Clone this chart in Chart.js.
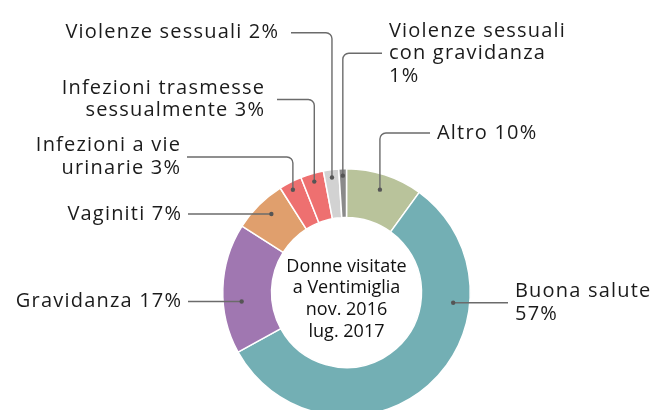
<!DOCTYPE html>
<html>
<head>
<meta charset="utf-8">
<script src="https://cdn.jsdelivr.net/npm/chart.js@4"></script>
<style>
  html, body { margin: 0; padding: 0; background: #fff; overflow: hidden; }
  #wrap { width: 655px; height: 410px; overflow: hidden; }
</style>
</head>
<body>
<div id="wrap">
  <canvas id="donutChart" width="655" height="440"></canvas>
</div>
<script>
// data
const categories = ['Altro', 'Buona salute', 'Gravidanza', 'Vaginiti', 'Infezioni a vie urinarie',
                    'Infezioni trasmesse sessualmente', 'Violenze sessuali', 'Violenze sessuali con gravidanza'];
const values = [10, 57, 17, 7, 3, 3, 2, 1];
const colors = ['#b9c39b', '#73afb4', '#a077b1', '#e09f6d', '#ee7070', '#ee7070', '#d2d2d2', '#8a8a8a'];
const centerText = ['Donne visitate', 'a Ventimiglia', 'nov. 2016', 'lug. 2017'];

// callout layout: pos = where along the slice, ring = how far across the ring
const callouts = [
    { lines: ['Altro ' + values[0] + '%'], pos: 0.5, ring: 0.68, elbowY: 133, endX: 430, textX: 437, align: 'left' },
    { lines: ['Buona salute', values[1] + '%'], pos: 0.29, ring: 0.66, endX: 508, textX: 515, align: 'left' },
    { lines: ['Gravidanza ' + values[2] + '%'], pos: 0.39, ring: 0.62, endX: 188, textX: 181, align: 'right' },
    { lines: ['Vaginiti ' + values[3] + '%'], pos: 0.55, ring: 0.69, endX: 188, textX: 181, align: 'right' },
    { lines: ['Infezioni a vie', 'urinarie ' + values[4] + '%'], pos: 0.45, ring: 0.84, elbowY: 157, endX: 187, textX: 180, align: 'right' },
    { lines: ['Infezioni trasmesse', 'sessualmente ' + values[5] + '%'], pos: 0.5, ring: 0.83, elbowY: 99.5, endX: 277, textX: 264, align: 'right' },
    { lines: ['Violenze sessuali ' + values[6] + '%'], pos: 0.5, ring: 0.84, elbowY: 32.7, endX: 291, textX: 278, align: 'right' },
    { lines: ['Violenze sessuali', 'con gravidanza', values[7] + '%'], pos: 0.5, ring: 0.86, elbowY: 53.3, endX: 382, textX: 389, align: 'left' }
];

const labelFont = '20px "Open Sans", sans-serif';
const lineHeight = 22.5;

const calloutPlugin = {
    id: 'callouts',
    afterDraw(chart) {
        const ctx = chart.ctx;
        const arcs = chart.getDatasetMeta(0).data;
        ctx.save();
        arcs.forEach(function(arc, i) {
            const c = callouts[i];
            if (!c) return;
            const a = arc.startAngle + (arc.endAngle - arc.startAngle) * c.pos;
            const r = arc.innerRadius + (arc.outerRadius - arc.innerRadius) * c.ring;
            const dx = arc.x + Math.cos(a) * r;
            const dy = arc.y + Math.sin(a) * r;

            ctx.strokeStyle = '#6b6b6b';
            ctx.lineWidth = 1.4;
            ctx.beginPath();
            ctx.moveTo(dx, dy);
            let ty = dy;
            if (c.elbowY !== undefined) {
                ty = c.elbowY;
                ctx.arcTo(dx, ty, c.endX, ty, 6);
            }
            ctx.lineTo(c.endX, ty);
            ctx.stroke();

            ctx.fillStyle = '#555';
            ctx.beginPath();
            ctx.arc(dx, dy, 2.2, 0, Math.PI * 2);
            ctx.fill();

            ctx.fillStyle = '#1b1b1b';
            ctx.font = labelFont;
            ctx.letterSpacing = '1.2px';
            ctx.textBaseline = 'middle';
            const top = ty - (c.lines.length - 1) * lineHeight / 2;
            c.lines.forEach(function(line, j) {
                // measure so right-aligned text ends exactly at textX
                let x = c.textX;
                if (c.align === 'right') {
                    x = c.textX - ctx.measureText(line).width + 1.2;
                }
                ctx.textAlign = 'left';
                ctx.fillText(line, x, top + j * lineHeight);
            });
        });

        // text in the hole
        const first = arcs[0];
        ctx.font = '18px "Open Sans", sans-serif';
        ctx.letterSpacing = '0px';
        ctx.textAlign = 'center';
        ctx.textBaseline = 'middle';
        ctx.fillStyle = '#111';
        const lh = 21.7;
        const startY = first.y + 6.5 - (centerText.length - 1) * lh / 2;
        centerText.forEach(function(line, j) {
            ctx.fillText(line, first.x, startY + j * lh);
        });
        ctx.restore();
    }
};

let ctx = document.getElementById('donutChart').getContext('2d');
let myChart = new Chart(ctx, {
    type: 'doughnut',
    data: {
        labels: categories,
        datasets: [{
            data: values,
            backgroundColor: colors,
            borderColor: '#ffffff',
            borderWidth: 1.5
        }]
    },
    options: {
        responsive: false,
        animation: false,
        cutout: 75,
        layout: {
            padding: { left: 222, right: 184, top: 168, bottom: 23 }
        },
        plugins: {
            legend: { display: false },
            tooltip: { enabled: false }
        }
    },
    plugins: [calloutPlugin]
});
</script>
</body>
</html>
